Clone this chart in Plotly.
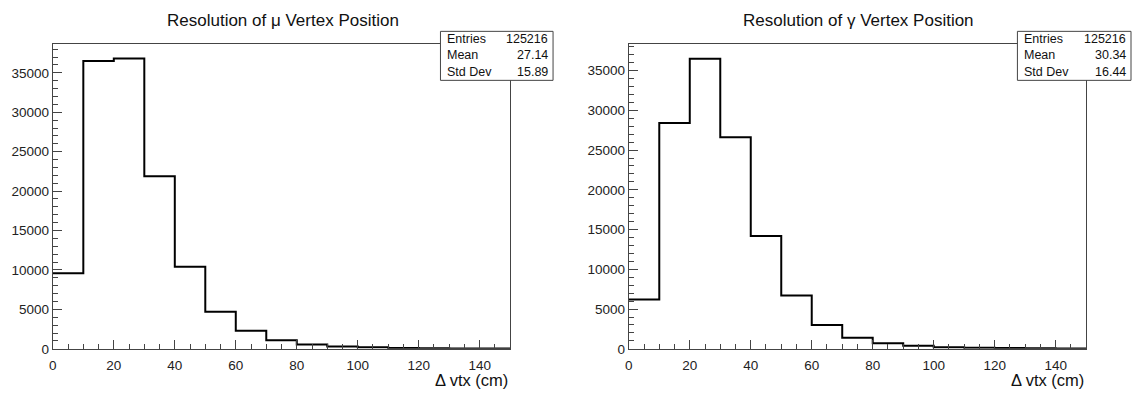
import plotly.graph_objects as go

W, H = 1133, 398

# ---- data ----
bin_edges = [0, 10, 20, 30, 40, 50, 60, 70, 80, 90, 100, 110, 120, 130, 140, 150]
mu_counts = [9600, 36500, 36800, 21900, 10400, 4700, 2300, 1100, 550, 300, 200, 120, 80, 50, 40]
gamma_counts = [6200, 28400, 36500, 26600, 14200, 6700, 3000, 1400, 700, 400, 200, 150, 100, 60, 50]
titles = ["Resolution of \u03bc Vertex Position", "Resolution of \u03b3 Vertex Position"]
stat_labels = ["Entries", "Mean", "Std Dev"]
mu_stats = ["125216", "27.14", "15.89"]
gamma_stats = ["125216", "30.34", "16.44"]
x_title = "\u0394 vtx (cm)"
y_ticks = [0, 5000, 10000, 15000, 20000, 25000, 30000, 35000]
y_tick_labels = ["0", "5000", "10000", "15000", "20000", "25000", "30000", "35000"]
x_ticks = [0, 20, 40, 60, 80, 100, 120, 140]
x_tick_labels = ["0", "20", "40", "60", "80", "100", "120", "140"]

FONT = "Liberation Sans, Arial, Helvetica, sans-serif"


def px(x):
    return x / W


def py(y):
    return 1 - y / H


fig = go.Figure()

panels = [
    dict(counts=mu_counts, stats=mu_stats, title=titles[0], x0=49, x1=508, ymax=38640,
         box=(438, 551), tcx=280, xs="x", ys="y", xa="xaxis", ya="yaxis"),
    dict(counts=gamma_counts, stats=gamma_stats, title=titles[1], x0=627, x1=1086, ymax=38330,
         box=(1017, 1131), tcx=858, xs="x2", ys="y2", xa="xaxis2", ya="yaxis2"),
]

PLOT_TOP, PLOT_BOT = 45, 356
annotations = []
shapes = []
layout_axes = {}

for p in panels:
    xs = bin_edges
    ys = p["counts"] + [p["counts"][-1]]
    fig.add_trace(go.Scatter(x=xs, y=ys, mode="lines", line=dict(shape="hv", color="black", width=2),
                             xaxis=p["xs"], yaxis=p["ys"], showlegend=False, hoverinfo="skip"))
    layout_axes[p["xa"]] = dict(
        domain=[px(p["x0"]), px(p["x1"])], range=[0, 150], anchor=p["ys"],
        tickvals=x_ticks, ticktext=x_tick_labels, ticks="inside", ticklen=9, tickwidth=1, tickcolor="#444",
        minor=dict(dtick=5, ticks="inside", ticklen=5, tickwidth=1, tickcolor="#444"),
        showline=True, mirror=True, linecolor="#444", linewidth=1,
        showgrid=False, zeroline=False, ticklabelstandoff=4,
        tickfont=dict(family=FONT, size=13.5, color="#222"), fixedrange=True,
    )
    layout_axes[p["ya"]] = dict(
        domain=[py(PLOT_BOT), py(PLOT_TOP)], range=[0, p["ymax"]], anchor=p["xs"],
        tickvals=y_ticks, ticktext=y_tick_labels, ticks="inside", ticklen=9, tickwidth=1, tickcolor="#444",
        minor=dict(dtick=1000, ticks="inside", ticklen=5, tickwidth=1, tickcolor="#444"),
        showline=True, mirror=True, linecolor="#444", linewidth=1,
        showgrid=False, zeroline=False,
        tickfont=dict(family=FONT, size=13.5, color="#222"), fixedrange=True,
    )
    # title
    annotations.append(dict(text=p["title"], x=px(p["tcx"]), y=py(21), xref="paper", yref="paper",
                            xanchor="center", yanchor="middle", showarrow=False,
                            font=dict(family=FONT, size=17, color="#111")))
    # x axis title
    annotations.append(dict(text=x_title, x=px(p["x1"]), y=py(388), xref="paper", yref="paper",
                            xanchor="right", yanchor="middle", showarrow=False,
                            font=dict(family=FONT, size=16.5, color="#111")))
    # stats box
    bx0, bx1 = p["box"]
    by0, by1 = 32, 82
    shapes.append(dict(type="rect", xref="paper", yref="paper", x0=px(bx0), x1=px(bx1),
                       y0=py(by1), y1=py(by0), fillcolor="white", line=dict(color="#444", width=1),
                       layer="above"))
    for i, (lab, val) in enumerate(zip(stat_labels, p["stats"])):
        yc = 40 + i * 16.5
        annotations.append(dict(text=lab, x=px(bx0 + 5), y=py(yc), xref="paper", yref="paper",
                                xanchor="left", yanchor="middle", showarrow=False,
                                font=dict(family=FONT, size=12.5, color="#111")))
        annotations.append(dict(text=val, x=px(bx1 - 3), y=py(yc), xref="paper", yref="paper",
                                xanchor="right", yanchor="middle", showarrow=False,
                                font=dict(family=FONT, size=12.5, color="#111")))

fig.update_layout(
    width=W, height=H, margin=dict(l=0, r=0, t=0, b=0),
    paper_bgcolor="white", plot_bgcolor="white",
    annotations=annotations, shapes=shapes, showlegend=False,
    **layout_axes,
)

fig.write_html("out.html", config={"displayModeBar": False})
